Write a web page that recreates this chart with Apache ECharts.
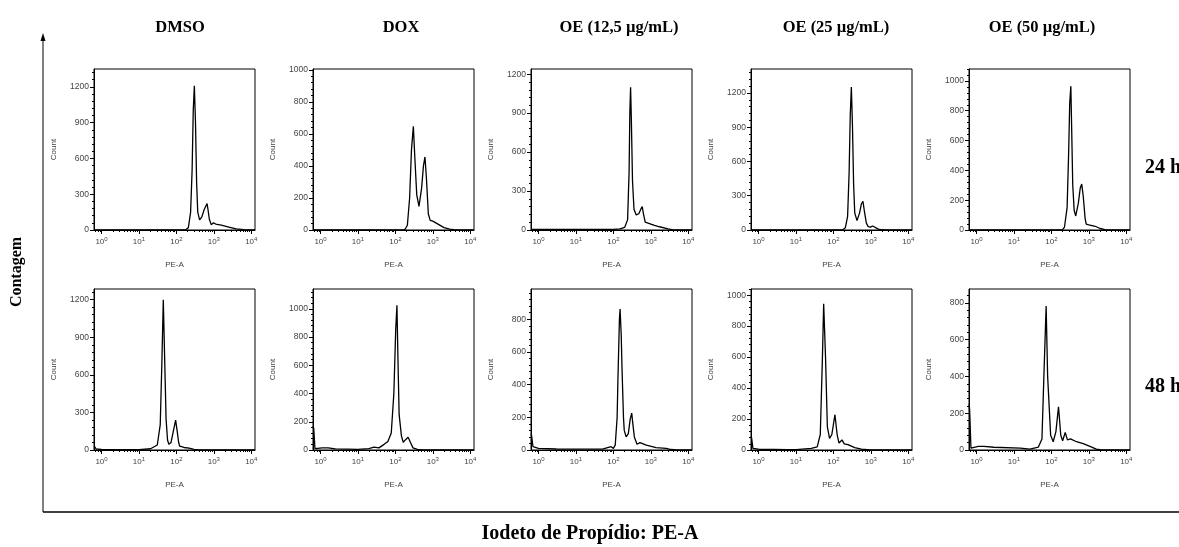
<!DOCTYPE html>
<html>
<head>
<meta charset="utf-8">
<script src="https://cdn.jsdelivr.net/npm/echarts@6/dist/echarts.min.js"></script>
<style>
html,body{margin:0;padding:0;background:#fff;}
#chart{width:1179px;height:547px;}
</style>
</head>
<body>
<div id="chart"></div>
<script>
// ---- Labels ----
const panelTitles = ['DMSO', 'DOX', 'OE (12,5 µg/mL)', 'OE (25 µg/mL)', 'OE (50 µg/mL)'];
const rowLabels = ['24 h', '48 h'];
const xAxisTitle = 'Iodeto de Propídio: PE-A';
const yAxisTitle = 'Contagem';
const xTickValues = [1, 10, 100, 1000, 10000];

// ---- Row 1: 24 h ----
const dmso24_pe    = [0.65, 100, 178, 209, 240, 263, 282, 302, 324, 347, 372, 417, 479, 550, 661, 692, 759, 851, 977, 1122, 1585, 2512, 3981, 6310, 10000, 12589];
const dmso24_count = [0,    0,   3,   20,  150, 500, 1000,1210,900, 400, 150, 85,  110, 170, 222, 180, 90,  45,  60,  50,   40,   25,   10,   3,    0,     0];

const dox24_pe     = [0.65, 100, 158, 182, 209, 240, 269, 302, 331, 372, 427, 501, 562, 617, 676, 759, 851, 1000, 1122, 1413, 1995, 2818, 3981, 12589];
const dox24_count  = [0,    0,   0,   5,   30,  200, 500, 648, 450, 220, 148, 260, 400, 456, 320, 100, 60,  55,   50,   35,   15,   5,    0,    0];

const oe12_24_pe    = [0.65, 100, 150, 200, 240, 263, 275, 288, 302, 324, 355, 407, 479, 550, 589, 630, 708, 794, 1000, 1259, 1698, 2884, 3981, 12589];
const oe12_24_count = [5,    5,   8,   20,  80,  450, 900, 1100,850, 380, 160, 116, 125, 165, 181, 130, 60,  45,  45,   35,   25,   8,    0,    0];

const oe25_24_pe    = [0.65, 100, 178, 209, 240, 263, 282, 302, 324, 347, 372, 427, 501, 562, 617, 676, 759, 851, 977, 1122, 1259, 1585, 1995, 2512, 12589];
const oe25_24_count = [0,    0,   3,   20,  120, 500, 1000,1253,900, 400, 150, 82,  150, 230, 250, 160, 60,  30,  25,  35,   25,   8,    2,    0,    0];

const oe50_24_pe    = [0.65, 100, 200, 224, 263, 288, 309, 331, 347, 372, 407, 447, 525, 589, 646, 708, 794, 851, 1000, 1096, 1479, 1995, 2692, 3981, 12589];
const oe50_24_count = [0,    0,   3,   20,  150, 500, 850, 965, 700, 300, 130, 94,  180, 280, 308, 230, 80,  40,  35,   33,   25,   10,   3,    0,    0];

// ---- Row 2: 48 h ----
const dmso48_pe    = [0.64, 0.67, 0.72, 1, 10, 20.4, 30.9, 37, 41, 44.7, 48, 53, 58, 63, 72, 83, 95.5, 105, 115, 123, 138, 160, 219, 295, 400, 12589];
const dmso48_count = [30,   25,   8,    5, 3,  10,   40,   200,700,1200, 800,250,80, 45, 60, 150,239,  150, 60,  30,  30,  20,  15,  5,   0,   0];

const dox48_pe     = [0.64, 0.66, 0.71, 1.12, 1.6, 2.5, 10, 19.5, 26.9, 36.3, 50, 63, 77.6, 91, 102, 110, 118, 126, 145, 162, 190, 219, 245, 257, 295, 389, 525, 12589];
const dox48_count  = [170,  150,  10,   15,   15,  8,   5,  10,   20,   15,   40, 60, 120,  400,850, 1025,600, 250, 100, 55,  75,  90,  85,  50,  15,  5,   0,   0];

const oe12_48_pe    = [0.64, 0.66, 0.71, 1, 3, 10, 51, 87, 100, 112, 126, 132, 145, 151, 162, 170, 186, 195, 219, 251, 282, 309, 331, 363, 427, 513, 759, 1380, 2570, 3467, 5000, 12589];
const oe12_48_count = [100,  80,   20,   10,6, 5,  5,  20, 10,  30,  200, 425, 800, 862, 700, 500, 200, 120, 80,  100, 190, 226, 160, 80,  35,  45,  30,  15,   10,   3,    0,    0];

const oe25_48_pe    = [0.64, 0.66, 0.71, 1, 6.2, 10, 25.7, 37, 44.7, 51, 55, 61.7, 69, 79, 91, 110, 126, 141, 170, 195, 245, 372, 562, 1000, 12589];
const oe25_48_count = [90,   70,   10,   5, 3,   3,  10,   20, 100,  600,945,600,  150,75, 100,228, 100, 45,  65,  40,  35,  15,  5,   0,    0];

const oe50_48_pe    = [0.64, 0.66, 0.71, 1.12, 1.58, 2.9, 14.8, 26.9, 44.7, 56, 63, 72.4, 79.4, 95.5, 112, 132, 155, 178, 200, 234, 269, 324, 468, 708, 1072, 1585, 2200, 12589];
const oe50_48_count = [250,  200,  10,   20,   20,   15,  10,   5,    15,   60, 400,782,  400,  80,   45,  100, 235, 80,  50,  95,  55,  60,  45,  35,  20,   5,    0,    0];

// ---- Per-panel y axis settings ----
const yMaxes = [1350, 1005, 1240, 1410, 1080, 1285, 1140, 985, 1040, 875];
const ySteps = [300, 200, 300, 300, 200, 300, 200, 200, 200, 200];

const panelsPE = [dmso24_pe, dox24_pe, oe12_24_pe, oe25_24_pe, oe50_24_pe,
                  dmso48_pe, dox48_pe, oe12_48_pe, oe25_48_pe, oe50_48_pe];
const panelsCount = [dmso24_count, dox24_count, oe12_24_count, oe25_24_count, oe50_24_count,
                     dmso48_count, dox48_count, oe12_48_count, oe25_48_count, oe50_48_count];

// ---- Layout ----
const gridLefts = [94, 313, 531, 751, 969];
const gridTops = [69, 289];
const gridW = 161, gridH = 161;
const xMin = 0.63, xMax = 12589;
const titleX = [180, 401, 619, 836, 1042];

const minorX = [];
[0.1, 1, 10, 100, 1000].forEach(d => { for (let k = 2; k <= 9; k++) { const v = d * k; if (v >= xMin && v <= xMax) minorX.push(v); } });

const grids = [], xAxes = [], yAxes = [], series = [];
const labelColor = '#444';
for (let i = 0; i < 10; i++) {
  const r = Math.floor(i / 5), c = i % 5;
  grids.push({ left: gridLefts[c], top: gridTops[r], width: gridW, height: gridH,
    show: true, borderColor: '#000', borderWidth: 1, backgroundColor: 'transparent' });
  xAxes.push({
    type: 'log', logBase: 10, gridIndex: i, min: xMin, max: xMax, position: 'bottom',
    axisLine: { show: true, lineStyle: { color: '#000', width: 1 } },
    axisTick: { show: true, length: 4, customValues: xTickValues, lineStyle: { color: '#000' } },
    axisLabel: { customValues: xTickValues, margin: 6, color: labelColor,
      formatter: v => '{b|10}{s|' + Math.round(Math.log10(v)) + '}',
      rich: { b: { fontSize: 8, lineHeight: 10, verticalAlign: 'bottom', color: labelColor, fontFamily: 'Liberation Sans' },
              s: { fontSize: 6, lineHeight: 10, verticalAlign: 'top', color: labelColor, fontFamily: 'Liberation Sans' } } },
    splitLine: { show: false },
    name: 'PE-A', nameLocation: 'middle', nameGap: 31,
    nameTextStyle: { fontSize: 8, color: labelColor, fontFamily: 'Liberation Sans' }
  });
  xAxes.push({
    type: 'log', logBase: 10, gridIndex: i, min: xMin, max: xMax, position: 'bottom',
    axisLine: { show: false },
    axisTick: { show: true, length: 2, customValues: minorX, lineStyle: { color: '#000' } },
    axisLabel: { show: false }, splitLine: { show: false }
  });
  const minorY = [];
  for (let v = 0; v <= yMaxes[i]; v += ySteps[i] / 5) minorY.push(v);
  yAxes.push({
    type: 'value', gridIndex: i, min: 0, max: yMaxes[i], interval: ySteps[i], position: 'left',
    axisLine: { show: true, lineStyle: { color: '#000', width: 1 } },
    axisTick: { show: true, length: 4, lineStyle: { color: '#000' } },
    axisLabel: { fontSize: 8.5, color: labelColor, margin: 5, showMaxLabel: false, fontFamily: 'Liberation Sans',
      formatter: v => String(v) },
    splitLine: { show: false },
    name: 'Count', nameLocation: 'middle', nameGap: 36, nameRotate: 90,
    nameTextStyle: { fontSize: 8, color: labelColor, fontFamily: 'Liberation Sans' }
  });
  yAxes.push({
    type: 'value', gridIndex: i, min: 0, max: yMaxes[i], position: 'left',
    axisLine: { show: false },
    axisTick: { show: true, length: 2, customValues: minorY, lineStyle: { color: '#000' } },
    axisLabel: { show: false }, splitLine: { show: false }
  });
  series.push({
    type: 'line', xAxisIndex: 2 * i, yAxisIndex: 2 * i,
    data: panelsPE[i].map((v, j) => [v, panelsCount[i][j]]),
    symbol: 'none', showSymbol: false, smooth: false, silent: true,
    lineStyle: { color: '#000', width: 1.3 }
  });
}

const serifFont = size => 'bold ' + size + 'px "Liberation Serif", "Times New Roman", serif';
const graphics = [];
panelTitles.forEach((t, c) => graphics.push({ type: 'text', x: titleX[c], y: 28,
  style: { text: t, font: serifFont(16.5), fill: '#000', textAlign: 'center', textVerticalAlign: 'middle' } }));
rowLabels.forEach((t, r) => graphics.push({ type: 'text', x: 1145, y: [168, 387][r],
  style: { text: t, font: serifFont(20), fill: '#000', textAlign: 'left', textVerticalAlign: 'middle' } }));
graphics.push({ type: 'text', x: 590, y: 534,
  style: { text: xAxisTitle, font: serifFont(20), fill: '#000', textAlign: 'center', textVerticalAlign: 'middle' } });
graphics.push({ type: 'text', x: 17, y: 272, rotation: Math.PI / 2,
  style: { text: yAxisTitle, font: serifFont(16), fill: '#000', textAlign: 'center', textVerticalAlign: 'middle' } });
graphics.push({ type: 'line', shape: { x1: 43, y1: 512, x2: 43, y2: 40 }, style: { stroke: '#000', lineWidth: 1 } });
graphics.push({ type: 'line', shape: { x1: 43, y1: 512, x2: 1179, y2: 512 }, style: { stroke: '#000', lineWidth: 1.6 } });
graphics.push({ type: 'polygon', shape: { points: [[43, 33], [40.5, 41], [45.5, 41]] }, style: { fill: '#000' } });

const chart = echarts.init(document.getElementById('chart'), null, { renderer: 'canvas' });
chart.setOption({
  animation: false,
  backgroundColor: '#fff',
  grid: grids, xAxis: xAxes, yAxis: yAxes, series: series,
  graphic: { elements: graphics }
});
</script>
</body>
</html>
